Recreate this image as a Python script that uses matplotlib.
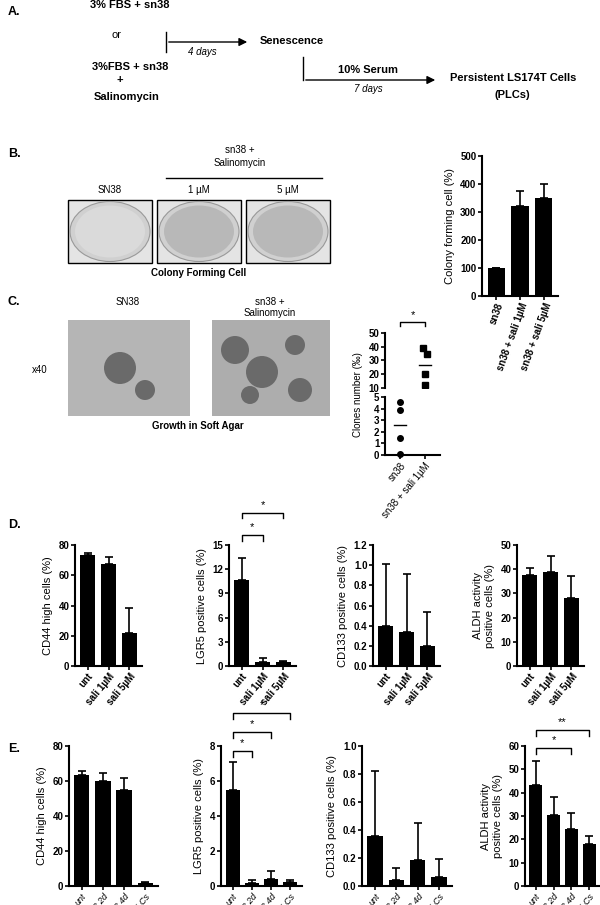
import matplotlib
matplotlib.use("Agg")
import matplotlib.pyplot as plt
from matplotlib.patches import Rectangle, Circle, Ellipse
import numpy as np

plt.rcParams['font.family'] = ['Liberation Sans', 'DejaVu Sans']
plt.rcParams['font.size'] = 7

W, H = 600, 905
fig = plt.figure(figsize=(6, 9.05), dpi=100)

def ax_px(x0, y0, x1, y1):
    return fig.add_axes([x0 / W, 1 - y1 / H, (x1 - x0) / W, (y1 - y0) / H])

def T(x, y, s, **kw):
    fig.text(x / W, 1 - y / H, s, **kw)

# ---------- data ----------
b_cats = ["sn38", "sn38 + sali 1µM", "sn38 + sali 5µM"]
b_vals = [100, 320, 350]
b_err = [0, 55, 50]

c_cats = ["sn38", "sn38 + sali 1µM"]
c_sn38 = [4.6, 3.9, 1.5, 0.1]
c_sali = [39, 35, 20, 12]
c_means = [2.6, 27]

d_cats = ["unt", "sali 1µM", "sali 5µM"]
d_cd44 = [73.5, 67.5, 22]; d_cd44_err = [1, 4.5, 16.5]
d_lgr5 = [10.6, 0.5, 0.5]; d_lgr5_err = [2.8, 0.5, 0.15]
d_cd133 = [0.40, 0.34, 0.20]; d_cd133_err = [0.61, 0.57, 0.34]
d_aldh = [37.5, 39, 28]; d_aldh_err = [2.8, 6.3, 9.2]

e_cats = ["unt", "sn38 2d", "sn38 4d", "PLCs"]
e_cd44 = [63.5, 60, 55, 1.5]; e_cd44_err = [2.5, 4.5, 7, 0.8]
e_lgr5 = [5.5, 0.2, 0.4, 0.25]; e_lgr5_err = [1.6, 0.12, 0.45, 0.1]
e_cd133 = [0.36, 0.045, 0.185, 0.065]; e_cd133_err = [0.46, 0.085, 0.265, 0.13]
e_aldh = [43.5, 30.5, 24.5, 18]; e_aldh_err = [10, 7.5, 7, 3.5]

bold = dict(fontweight='bold')

def style(ax, ylim, yticks, cats, ylabel, rot=50, italic=False, fmt="%g"):
    for s in ['top', 'right']:
        ax.spines[s].set_visible(False)
    for s in ['left', 'bottom']:
        ax.spines[s].set_linewidth(1.5)
    ax.set_ylim(*ylim)
    ax.set_yticks(yticks)
    ax.set_yticklabels([fmt % t for t in yticks], fontweight='bold')
    ax.tick_params(axis='both', width=1.2, length=3, labelsize=7, pad=1)
    ax.set_xticks(range(len(cats)))
    ax.set_xticklabels(cats, rotation=rot, ha='right', rotation_mode='anchor',
                       fontsize=7, fontstyle='italic' if italic else 'normal',
                       fontweight='normal' if italic else 'bold')
    ax.set_xlim(-0.6, len(cats) - 0.4)
    ax.set_ylabel(ylabel, fontsize=8)

def bars(ax, vals, errs):
    x = np.arange(len(vals))
    ax.bar(x, vals, width=0.72, color='black')
    ax.errorbar(x, vals, yerr=[np.zeros(len(errs)), errs], fmt='none', ecolor='black',
                elinewidth=1.2, capsize=3, capthick=1.2)

def bracket(ax, x0, x1, y, h, star):
    ax.plot([x0, x0, x1, x1], [y - h, y, y, y - h], color='black', lw=1, clip_on=False)
    ax.text((x0 + x1) / 2, y + h * 0.5, star, ha='center', va='bottom', fontsize=8, clip_on=False)

# ---------- Panel A ----------
T(8, 15, "A.", fontsize=9, **bold)
T(130, 5, "3% FBS + sn38", fontsize=8, ha='center', va='center', **bold)
T(117, 35, "or", fontsize=8, ha='center', va='center')
T(130, 67, "3%FBS + sn38", fontsize=8, ha='center', va='center', **bold)
T(120, 80, "+", fontsize=8, ha='center', va='center', **bold)
T(127, 97, "Salinomycin", fontsize=8, ha='center', va='center', **bold)
la = fig.add_axes([0, 0, 1, 1]); la.set_xlim(0, W); la.set_ylim(H, 0); la.axis('off')
la.plot([166, 166], [32, 52], color='black', lw=1)
la.annotate("", xy=(250, 42), xytext=(166, 42), arrowprops=dict(arrowstyle='-|>', color='black', lw=1, mutation_scale=12))
T(202, 52, "4 days", fontsize=7, ha='center', va='center', fontstyle='italic')
T(260, 41, "Senescence", fontsize=8, ha='left', va='center', **bold)
la.plot([303, 303], [57, 80], color='black', lw=1)
la.annotate("", xy=(438, 80), xytext=(303, 80), arrowprops=dict(arrowstyle='-|>', color='black', lw=1, mutation_scale=12))
T(368, 70, "10% Serum", fontsize=8, ha='center', va='center', **bold)
T(368, 89, "7 days", fontsize=7, ha='center', va='center', fontstyle='italic')
T(450, 78, "Persistent LS174T Cells", fontsize=8, ha='left', va='center', **bold)
T(512, 95, "(PLCs)", fontsize=8, ha='center', va='center', **bold)

# ---------- Panel B ----------
T(8, 157, "B.", fontsize=9, **bold)
T(240, 150, "sn38 +", fontsize=7, ha='center', va='center')
T(240, 163, "Salinomycin", fontsize=7, ha='center', va='center')
la.plot([166, 322], [178, 178], color='black', lw=1)
for xc, lab in [(110, "SN38"), (199, "1 µM"), (288, "5 µM")]:
    T(xc, 190, lab, fontsize=7, ha='center', va='center')
    la.add_patch(Rectangle((xc - 42, 200), 84, 63, facecolor='#e4e4e4', edgecolor='black', lw=1))
    la.add_patch(Ellipse((xc, 231.5), 80, 60, facecolor='#d0d0d0', edgecolor='#999999', lw=0.8))
    la.add_patch(Ellipse((xc, 231.5), 70, 52, facecolor='#dadada' if lab == "SN38" else '#b8b8b8', edgecolor='none'))
T(199, 273, "Colony Forming Cell", fontsize=7, ha='center', va='center', **bold)

axb = ax_px(482, 156, 558, 296)
bars(axb, b_vals, b_err)
style(axb, (0, 500), [0, 100, 200, 300, 400, 500], b_cats, "Colony forming cell (%)", rot=70)

# ---------- Panel C ----------
T(8, 305, "C.", fontsize=9, **bold)
T(128, 302, "SN38", fontsize=7, ha='center', va='center')
T(270, 302, "sn38 +", fontsize=7, ha='center', va='center')
T(270, 313, "Salinomycin", fontsize=7, ha='center', va='center')
T(40, 370, "x40", fontsize=7, ha='center', va='center')
la.add_patch(Rectangle((68, 320), 122, 96, facecolor='#b5b5b5', edgecolor='none'))
la.add_patch(Rectangle((212, 320), 118, 96, facecolor='#adadad', edgecolor='none'))
for (cx, cy, r) in [(120, 368, 16), (145, 390, 10), (235, 350, 14), (262, 372, 16), (295, 345, 10), (300, 390, 12), (250, 395, 9)]:
    la.add_patch(Circle((cx, cy), r, facecolor='#6a6a6a', edgecolor='none'))
T(198, 426, "Growth in Soft Agar", fontsize=7, ha='center', va='center', **bold)

axc_top = ax_px(385, 333, 440, 388)
axc_bot = ax_px(385, 397, 440, 455)
for a in (axc_top, axc_bot):
    for s in ['top', 'right']:
        a.spines[s].set_visible(False)
    a.spines['left'].set_linewidth(1.5)
    a.tick_params(axis='both', width=1.2, length=3, labelsize=7, pad=1)
    a.set_xlim(-0.6, 1.6)
axc_top.spines['bottom'].set_visible(False)
axc_top.set_xticks([])
axc_bot.spines['bottom'].set_linewidth(1.5)
axc_top.plot(np.full(len(c_sali), 1.0) + np.array([-0.08, 0.08, 0, 0]), c_sali, 's', color='black', ms=4)
axc_top.plot([0.75, 1.25], [c_means[1]] * 2, color='black', lw=1)
axc_top.set_ylim(10, 50)
axc_top.set_yticks([10, 20, 30, 40, 50])
axc_bot.plot(np.zeros(len(c_sn38)), c_sn38, 'o', color='black', ms=4, clip_on=False)
axc_bot.plot([-0.25, 0.25], [c_means[0]] * 2, color='black', lw=1)
axc_bot.set_ylim(0, 5)
axc_bot.set_yticks([0, 1, 2, 3, 4, 5])
for a in (axc_top, axc_bot):
    for lab in a.get_yticklabels():
        lab.set_fontweight('bold')
axc_bot.set_xticks([0, 1])
axc_bot.set_xticklabels(c_cats, rotation=50, ha='right', rotation_mode='anchor', fontsize=7)
T(358, 395, "Clones number (‰)", fontsize=7, rotation=90, ha='center', va='center')
bracket(axc_top, 0, 1, 58, 3, "*")

# ---------- Panel D ----------
T(8, 528, "D.", fontsize=9, **bold)
dspecs = [
    ((75, 545, 142, 666), d_cd44, d_cd44_err, (0, 80), [0, 20, 40, 60, 80], "CD44 high cells (%)", "%g"),
    ((229, 545, 296, 666), d_lgr5, d_lgr5_err, (0, 15), [0, 3, 6, 9, 12, 15], "LGR5 positive cells (%)", "%g"),
    ((373, 545, 440, 666), d_cd133, d_cd133_err, (0, 1.2), [0.0, 0.2, 0.4, 0.6, 0.8, 1.0, 1.2], "CD133 positive cells (%)", "%.1f"),
    ((517, 545, 584, 666), d_aldh, d_aldh_err, (0, 50), [0, 10, 20, 30, 40, 50], "ALDH activity\npositive cells (%)", "%g"),
]
dax = []
for (box, v, e, yl, yt, lab, fmt) in dspecs:
    a = ax_px(*box)
    bars(a, v, e)
    style(a, yl, yt, d_cats, lab, fmt=fmt)
    dax.append(a)
bracket(dax[1], 0, 1, 16.2, 0.7, "*")
bracket(dax[1], 0, 2, 19.0, 0.7, "*")

# ---------- Panel E ----------
T(8, 752, "E.", fontsize=9, **bold)
especs = [
    ((69, 746, 158, 886), e_cd44, e_cd44_err, (0, 80), [0, 20, 40, 60, 80], "CD44 high cells (%)", "%g"),
    ((221, 746, 302, 886), e_lgr5, e_lgr5_err, (0, 8), [0, 2, 4, 6, 8], "LGR5 positive cells (%)", "%g"),
    ((362, 746, 452, 886), e_cd133, e_cd133_err, (0, 1.0), [0.0, 0.2, 0.4, 0.6, 0.8, 1.0], "CD133 positive cells (%)", "%.1f"),
    ((525, 746, 600, 886), e_aldh, e_aldh_err, (0, 60), [0, 10, 20, 30, 40, 50, 60], "ALDH activity\npositive cells (%)", "%g"),
]
eax = []
for (box, v, e, yl, yt, lab, fmt) in especs:
    a = ax_px(*box)
    bars(a, v, e)
    style(a, yl, yt, e_cats, lab, italic=True, fmt=fmt)
    for l in a.get_xticklabels():
        l.set_fontsize(6.5)
    eax.append(a)
bracket(eax[1], 0, 1, 7.7, 0.35, "*")
bracket(eax[1], 0, 2, 8.8, 0.35, "*")
bracket(eax[1], 0, 3, 9.9, 0.35, "*")
bracket(eax[3], 0, 2, 59, 2.5, "*")
bracket(eax[3], 0, 3, 67, 2.5, "**")

fig.savefig("out.png", dpi=100)
